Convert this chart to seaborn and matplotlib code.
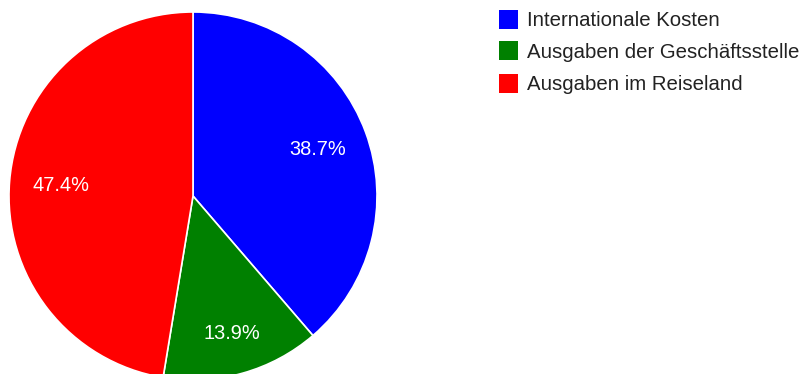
import matplotlib
matplotlib.use("Agg")
import matplotlib.pyplot as plt
from matplotlib.patches import Rectangle
import seaborn as sns

# Cost shares (percent)
categories = ["Internationale Kosten", "Ausgaben der Geschäftsstelle", "Ausgaben im Reiseland"]
shares = [38.7, 13.9, 47.4]
colors = ["#0000FF", "#008000", "#FF0000"]

sns.set_theme(style="white")
plt.rcParams["font.family"] = ["Liberation Sans", "DejaVu Sans"]

W, H = 805, 374
fig = plt.figure(figsize=(W / 100, H / 100), dpi=100)
fig.patch.set_facecolor("white")

# Pie placement in pixels (centre and radius)
cx, cy, r = 193, 196, 184
ax = fig.add_axes([(cx - r) / W, (H - cy - r) / H, 2 * r / W, 2 * r / H])
wedges, texts, autotexts = ax.pie(
    shares,
    colors=colors,
    startangle=90,
    counterclock=False,
    radius=1.0,
    autopct="%.1f%%",
    pctdistance=0.72,
    wedgeprops=dict(edgecolor="white", linewidth=1.2),
    textprops=dict(color="white", fontsize=14.4),
)
ax.set_xlim(-1, 1)
ax.set_ylim(-1, 1)
ax.set_aspect("auto")
ax.axis("off")

# push the small slice label slightly further out
label_scale = [1.0, 1.08, 1.0]
for t, s in zip(autotexts, label_scale):
    x, y = t.get_position()
    t.set_position((x * s, y * s))
    t.set_ha("center")
    t.set_va("center")

# Legend drawn in figure pixel space
box = 19
row_y = [19, 50, 83]
for name, col, yc in zip(categories, colors, row_y):
    fig.patches.append(Rectangle(((499) / W, (H - yc - box / 2) / H), box / W, box / H,
                                 transform=fig.transFigure, facecolor=col, edgecolor="none"))
    fig.text(527 / W, (H - yc) / H, name, ha="left", va="center_baseline",
             fontsize=14.7, color="#222222")

fig.savefig("out.png", dpi=100)
